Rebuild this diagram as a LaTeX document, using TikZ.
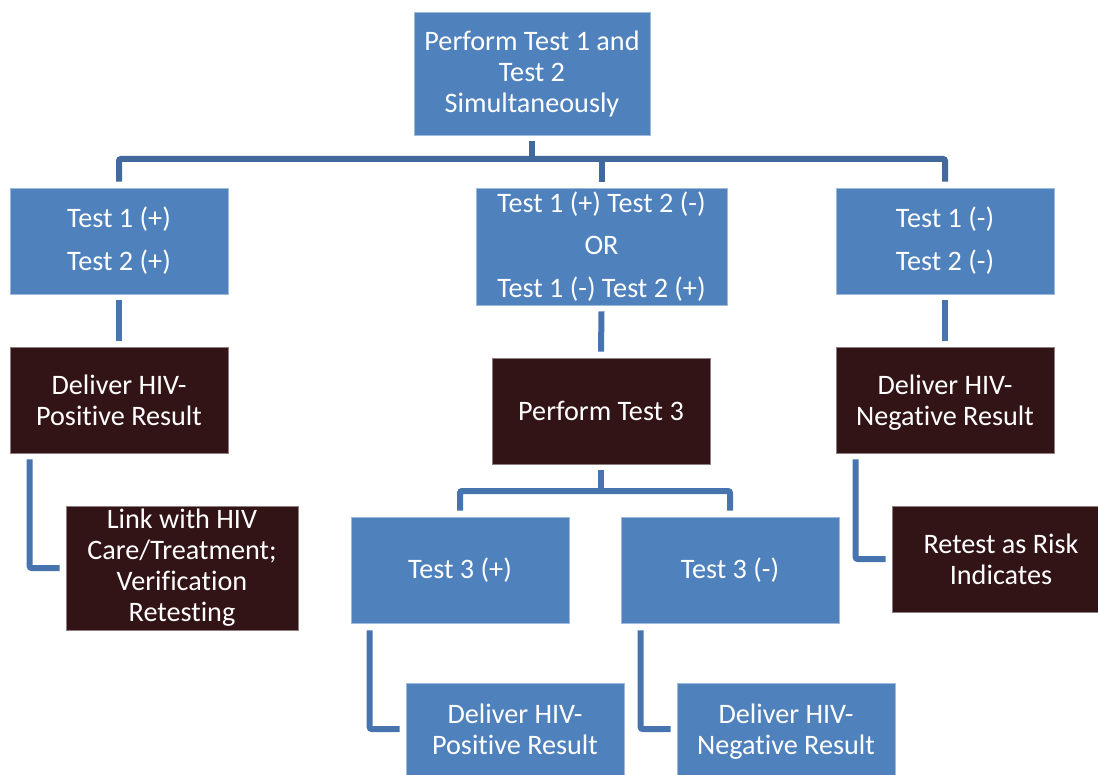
\documentclass[tikz,border=0pt]{standalone}
\usepackage{fontspec}
\setmainfont{Carlito}[Ligatures={NoCommon}]
\usetikzlibrary{calc}
\definecolor{boxblue}{HTML}{4F81BD}
\definecolor{boxdark}{HTML}{331416}
\definecolor{linkblue}{HTML}{4774AE}
\definecolor{barblue}{HTML}{41699C}

\begin{document}
\begin{tikzpicture}[x=1pt,y=-1pt,
  box/.style={rectangle, inner sep=0pt, align=center, text=white,
    font=\fontsize{28.2}{31}\selectfont},
  bluebox/.style={box, fill=boxblue, draw=boxblue!55!white, line width=0.7pt},
  darkbox/.style={box, fill=boxdark, draw=boxdark!55!white, line width=0.7pt},
  widelines/.style={font=\fontsize{28.2}{42.8}\selectfont},
  conn/.style={draw=linkblue, line width=6pt, rounded corners=2pt},
  bar/.style={conn, draw=barblue}
]
\useasboundingbox (0,0) rectangle (1098,775);

% first stage
\node[bluebox, minimum width=236pt, minimum height=123pt] (top) at (532,73.5)
  {Perform Test 1 and\\Test 2\\Simultaneously};

% outcomes of tests 1 and 2
\node[bluebox, widelines, minimum width=218pt, minimum height=106pt] (t12p) at (119,241)
  {Test 1 (+)\\Test 2 (+)};
\node[bluebox, widelines, minimum width=251pt, minimum height=117pt] (mid) at (601.5,246.5)
  {Test 1 (+) Test 2 (-)\\OR\\Test 1 (-) Test 2 (+)};
\node[bluebox, widelines, minimum width=218pt, minimum height=106pt] (t12n) at (945,241)
  {Test 1 (-)\\Test 2 (-)};

% actions
\node[darkbox, minimum width=218pt, minimum height=106pt] (posres) at (119,400)
  {Deliver HIV-\\Positive Result};
\node[darkbox, minimum width=218pt, minimum height=106pt] (test3) at (601,411)
  {Perform Test 3};
\node[darkbox, minimum width=218pt, minimum height=106pt] (negres) at (945,400)
  {Deliver HIV-\\\smash{Negative Result}};

\node[darkbox, minimum width=232pt, minimum height=124pt] (link) at (182,568)
  {Link with HIV\\Care/Treatment;\\Verification\\Retesting};
\node[darkbox, minimum width=218pt, minimum height=106pt] (retest) at (1001,559)
  {Retest as Risk\\Indicates};

% test 3 outcomes
\node[bluebox, minimum width=218pt, minimum height=106pt] (t3p) at (460,570)
  {Test 3 (+)};
\node[bluebox, minimum width=218pt, minimum height=106pt] (t3n) at (730,570)
  {Test 3 (-)};

\node[bluebox, minimum width=218pt, minimum height=92pt] (bpos) at (515,729)
  {Deliver HIV-\\Positive Result};
\node[bluebox, minimum width=218pt, minimum height=92pt] (bneg) at (786,729)
  {Deliver HIV-\\\smash{Negative Result}};

% connectors
\coordinate (bar1) at (532,159);
\coordinate (bar2) at (601,491);

\draw[bar] ([yshift=-6pt]top.south) -- (bar1);
\draw[bar] ([yshift=6pt]t12p.north) |- (bar1) -| ([yshift=6pt]t12n.north);
\draw[bar] (bar1 -| mid.north) -- ([yshift=6pt]mid.north);

\draw[conn] ([yshift=-6pt]t12p.south) -- ([yshift=6pt]posres.north);
\draw[conn] ([yshift=-6pt]mid.south) -- ([yshift=6pt]test3.north);
\draw[conn] ([yshift=-6pt]t12n.south) -- ([yshift=6pt]negres.north);

\draw[conn] ([xshift=20pt,yshift=-6pt]posres.south west) |- ([xshift=-6pt]link.west);
\draw[conn] ([xshift=20pt,yshift=-6pt]negres.south west) |- ([xshift=-6pt]retest.west);

\draw[conn] ([yshift=-6pt]test3.south) -- (bar2);
\draw[conn] ([yshift=6pt]t3p.north) |- (bar2) -| ([yshift=6pt]t3n.north);

\draw[conn] ([xshift=19pt,yshift=-7pt]t3p.south west) |- ([xshift=-6pt]bpos.west);
\draw[conn] ([xshift=20pt,yshift=-7pt]t3n.south west) |- ([xshift=-6pt]bneg.west);
\end{tikzpicture}
\end{document}
